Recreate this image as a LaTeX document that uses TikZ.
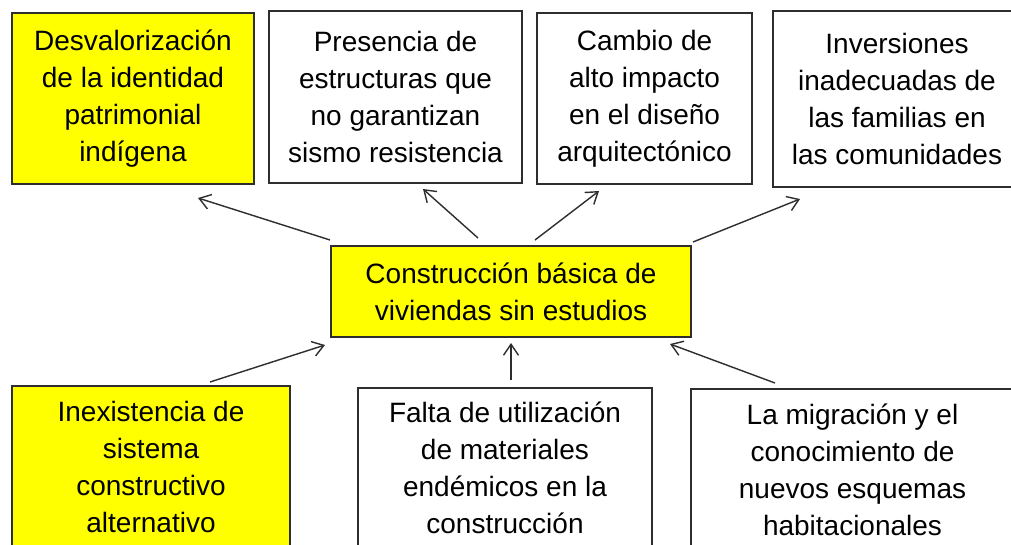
\documentclass[tikz,border=0pt]{standalone}
\usepackage{fontspec}
\setmainfont{Liberation Sans}
\usetikzlibrary{arrows.meta}
\definecolor{edge}{HTML}{2E2E2E}
\definecolor{fillyel}{HTML}{FFFF00}
\tikzset{
  box/.style={draw=edge, line width=1.6pt, rectangle, inner sep=0pt, align=center,
    font=\fontsize{28}{37}\selectfont, text=black},
  yel/.style={box, fill=fillyel},
  wht/.style={box, fill=white},
  arr/.style={draw=edge, line width=1.4pt, -{Straight Barb[length=11pt,width=15pt,line width=1.4pt]}}
}
\begin{document}
\begin{tikzpicture}[x=1pt,y=-1pt]
\clip (0,0) rectangle (1011,544);
\fill[white] (0,0) rectangle (1011,544);
% top row
\node[yel, minimum width=242, minimum height=171] (b1) at (133,98.5)
  {Desvalorización\\de la identidad\\patrimonial\\indígena};
\node[wht, minimum width=253, minimum height=172] (b2) at (395.5,97)
  {Presencia de\\estructuras que\\no garantizan\\sismo resistencia};
\node[wht, minimum width=215, minimum height=171] (b3) at (644.5,98.5)
  {Cambio de\\alto impacto\\en el diseño\\arquitectónico};
\node[wht, minimum width=248, minimum height=176] (b4) at (897,99)
  {Inversiones\\inadecuadas de\\las familias en\\las comunidades};
% center
\node[yel, minimum width=360, minimum height=91] (c) at (511,291.5)
  {Construcción básica de\\viviendas sin estudios};
% bottom row
\node[yel, minimum width=278, minimum height=162] (d1) at (151,467)
  {Inexistencia de\\sistema\\constructivo\\alternativo};
\node[wht, minimum width=294, minimum height=160] (d2) at (505,468)
  {Falta de utilización\\de materiales\\endémicos en la\\construcción};
\node[wht, minimum width=323, minimum height=162] (d3) at (852.5,470)
  {La migración y el\\conocimiento de\\nuevos esquemas\\habitacionales};
% arrow end points
\coordinate (t1) at (330,240); \coordinate (h1) at (198,198);
\coordinate (t2) at (478,238); \coordinate (h2) at (423,189);
\coordinate (t3) at (535,240); \coordinate (h3) at (599,191);
\coordinate (t4) at (693,242); \coordinate (h4) at (800,199);
\coordinate (t5) at (210,382); \coordinate (h5) at (325,345);
\coordinate (t6) at (511,380); \coordinate (h6) at (511,343);
\coordinate (t7) at (775,383); \coordinate (h7) at (670,344);
\draw[arr] (t1) -- (h1);
\draw[arr] (t2) -- (h2);
\draw[arr] (t3) -- (h3);
\draw[arr] (t4) -- (h4);
\draw[arr] (t5) -- (h5);
\draw[arr] (t6) -- (h6);
\draw[arr] (t7) -- (h7);
\end{tikzpicture}
\end{document}
